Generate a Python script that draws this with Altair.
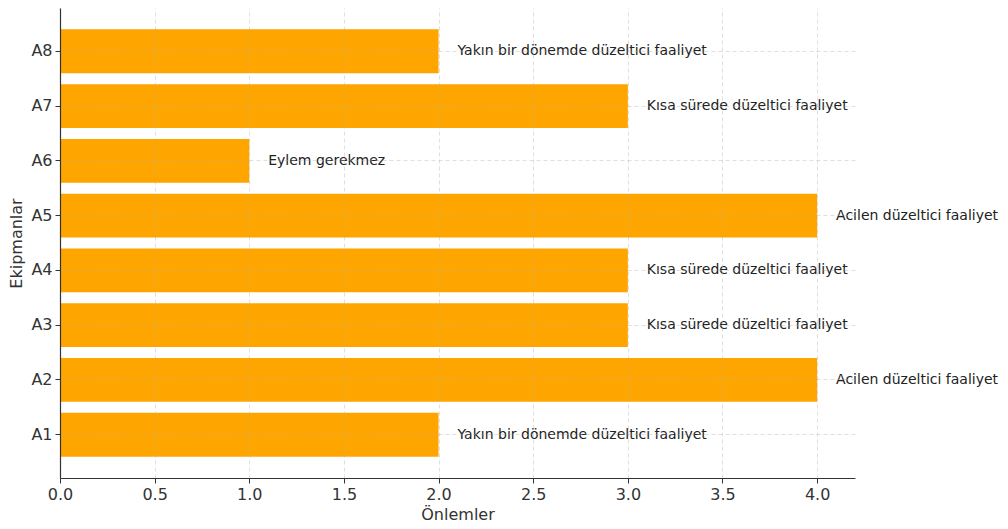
import altair as alt
import pandas as pd

ekipman = ["A1", "A2", "A3", "A4", "A5", "A6", "A7", "A8"]
onlem = [2, 4, 3, 3, 4, 1, 3, 2]
etiket = [
    "Yakın bir dönemde düzeltici faaliyet",
    "Acilen düzeltici faaliyet",
    "Kısa sürede düzeltici faaliyet",
    "Kısa sürede düzeltici faaliyet",
    "Acilen düzeltici faaliyet",
    "Eylem gerekmez",
    "Kısa sürede düzeltici faaliyet",
    "Yakın bir dönemde düzeltici faaliyet",
]
x_ticks = [0.0, 0.5, 1.0, 1.5, 2.0, 2.5, 3.0, 3.5, 4.0]

df = pd.DataFrame({"ekipman": ekipman, "onlem": onlem, "etiket": etiket})
order = list(reversed(ekipman))
FONT = "DejaVu Sans"

y_enc = alt.Y(
    "ekipman:N",
    sort=order,
    title="Ekipmanlar",
    scale=alt.Scale(paddingInner=0.2, paddingOuter=0.39),
    axis=alt.Axis(
        bandPosition=0.5, grid=True, gridDash=[4, 3], gridColor="#b0b0b0",
        gridOpacity=0.5, gridWidth=0.8, zindex=1,
        domainColor="#333333", domainWidth=1.2, tickColor="#333333",
        tickSize=5, labelPadding=3, labelFontSize=16, labelColor="#333333",
        labelFont=FONT, titleFont=FONT, titleFontSize=16, titleFontWeight="normal",
        titleColor="#333333", titlePadding=6,
    ),
)

x_enc = alt.X(
    "onlem:Q",
    title="Önlemler",
    scale=alt.Scale(domain=[0, 4.2], nice=False, zero=True),
    axis=alt.Axis(
        values=x_ticks, format=".1f", grid=True, gridDash=[4, 3], gridColor="#b0b0b0",
        gridOpacity=0.5, gridWidth=0.8, zindex=1,
        domainColor="#333333", domainWidth=1.2, tickColor="#333333",
        tickSize=5, labelPadding=3, labelFontSize=16, labelColor="#333333",
        labelFont=FONT, titleFont=FONT, titleFontSize=16, titleFontWeight="normal",
        titleColor="#333333", titlePadding=4, labelFlush=False,
    ),
)

bars = alt.Chart(df).mark_bar(color="#FFA500").encode(x=x_enc, y=y_enc)

texts = (
    alt.Chart(df)
    .transform_calculate(lx="datum.onlem + 0.1")
    .mark_text(align="left", baseline="middle", fontSize=14, font=FONT, color="#222222")
    .encode(
        x=alt.X("lx:Q", scale=alt.Scale(domain=[0, 4.2], nice=False)),
        y=alt.Y("ekipman:N", sort=order),
        text="etiket:N",
    )
)

chart = (
    alt.layer(bars, texts)
    .properties(
        width=795,
        height=470,
        autosize=alt.AutoSizeParams(type="none"),
        padding={"left": 52, "top": 0, "right": 145, "bottom": 50},
    )
    .configure(background="white")
    .configure_view(strokeOpacity=0, strokeWidth=0)
)

chart.save("out.html", embed_options={"renderer": "svg", "actions": False})
